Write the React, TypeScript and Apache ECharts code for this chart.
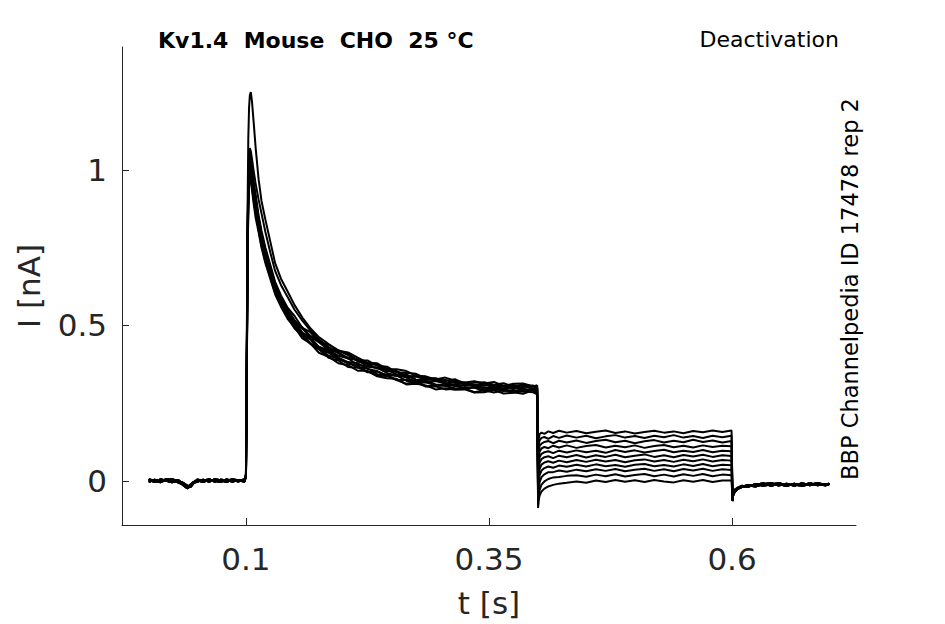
import React, { useEffect, useRef } from 'react';
import * as echarts from 'echarts';

// time points (s) of each protocol segment
const preTimes = [0, 0.006, 0.012, 0.018, 0.024, 0.03, 0.034, 0.037, 0.04, 0.043, 0.046, 0.05, 0.056, 0.062, 0.068, 0.074, 0.08, 0.086, 0.092, 0.0985];
const actTimes = [0.1, 0.1008, 0.1016, 0.1024, 0.1032, 0.104, 0.105, 0.1062, 0.108, 0.11, 0.113, 0.116, 0.12, 0.125, 0.13, 0.136, 0.143, 0.15, 0.158, 0.166, 0.175, 0.185, 0.195,
    0.205, 0.215, 0.225, 0.235, 0.245, 0.255, 0.265, 0.275, 0.285, 0.295, 0.305, 0.315, 0.325, 0.335, 0.345, 0.355, 0.365, 0.375, 0.385, 0.395, 0.3995];
const tailTimes = [0.4005, 0.401, 0.402, 0.404, 0.407, 0.411, 0.416, 0.422, 0.43, 0.44, 0.45, 0.46, 0.47, 0.48, 0.49, 0.5, 0.51, 0.52, 0.53, 0.54, 0.55, 0.56, 0.57, 0.58, 0.59, 0.5995];
const postTimes = [0.6005, 0.601, 0.603, 0.606, 0.61, 0.616, 0.624, 0.632, 0.64, 0.648, 0.656, 0.664, 0.672, 0.68, 0.688, 0.696, 0.7];

// holding current before the step (nA), three overlapping sweeps
const preA = [0.004, -0.004, 0.005, 0.0, -0.005, 0.003, -0.006, -0.014, -0.02, -0.012, -0.004, 0.002, -0.004, 0.004, 0.0, -0.004, 0.005, -0.003, 0.003, 0.001];
const preB = [-0.004, 0.004, -0.003, 0.005, 0.001, -0.005, -0.01, -0.018, -0.024, -0.016, -0.006, -0.003, 0.004, -0.003, 0.005, 0.002, -0.004, 0.004, -0.002, 0.005];
const preC = [0.005, 0.0, -0.005, 0.003, 0.006, -0.003, -0.004, -0.01, -0.016, -0.02, -0.008, 0.004, 0.0, 0.005, -0.003, 0.004, 0.0, 0.005, 0.002, -0.003];

// activation / inactivation phase, one row per sweep
const act0 = [0.02, 0.4, 0.85, 1.1, 1.2, 1.24, 1.25, 1.22, 1.15, 1.07, 0.97, 0.9, 0.84, 0.77, 0.7, 0.65, 0.608, 0.565, 0.525, 0.492, 0.462, 0.44, 0.42,
    0.408, 0.388, 0.387, 0.37, 0.367, 0.349, 0.347, 0.344, 0.329, 0.33, 0.321, 0.327, 0.312, 0.315, 0.317, 0.309, 0.314, 0.302, 0.31, 0.304, 0.306];
const act1 = [0.02, 0.38, 0.78, 0.98, 1.05, 1.07, 1.06, 1.035, 0.995, 0.955, 0.905, 0.86, 0.8, 0.735, 0.675, 0.63, 0.59, 0.55, 0.515, 0.485, 0.455, 0.43, 0.41,
    0.396, 0.39, 0.376, 0.373, 0.353, 0.353, 0.336, 0.337, 0.333, 0.321, 0.324, 0.315, 0.315, 0.306, 0.315, 0.303, 0.306, 0.308, 0.301, 0.307, 0.298];
const act2 = [0.02, 0.36, 0.76, 0.96, 1.04, 1.06, 1.045, 1.01, 0.96, 0.92, 0.854, 0.804, 0.75, 0.695, 0.64, 0.596, 0.556, 0.53, 0.492, 0.479, 0.447, 0.438, 0.418,
    0.413, 0.396, 0.38, 0.378, 0.36, 0.359, 0.353, 0.338, 0.336, 0.326, 0.332, 0.322, 0.316, 0.32, 0.313, 0.318, 0.305, 0.312, 0.313, 0.304, 0.307];
const act3 = [0.01, 0.34, 0.72, 0.92, 1.0, 1.03, 1.015, 0.985, 0.94, 0.9, 0.839, 0.789, 0.736, 0.683, 0.629, 0.586, 0.546, 0.513, 0.49, 0.464, 0.446, 0.421, 0.413,
    0.393, 0.389, 0.367, 0.364, 0.357, 0.342, 0.342, 0.324, 0.326, 0.324, 0.314, 0.308, 0.316, 0.305, 0.307, 0.303, 0.305, 0.297, 0.306, 0.297, 0.298];
const act4 = [0.01, 0.32, 0.7, 0.9, 0.97, 1.0, 0.985, 0.955, 0.91, 0.87, 0.818, 0.768, 0.717, 0.665, 0.614, 0.572, 0.532, 0.505, 0.468, 0.456, 0.424, 0.412, 0.39,
    0.381, 0.365, 0.362, 0.343, 0.342, 0.338, 0.322, 0.313, 0.317, 0.307, 0.307, 0.295, 0.302, 0.299, 0.29, 0.299, 0.289, 0.292, 0.287, 0.293, 0.287];
const act5 = [0.02, 0.35, 0.74, 0.95, 1.03, 1.05, 1.025, 0.98, 0.92, 0.87, 0.806, 0.756, 0.706, 0.655, 0.605, 0.564, 0.524, 0.49, 0.467, 0.441, 0.423, 0.396, 0.387,
    0.366, 0.364, 0.352, 0.338, 0.337, 0.324, 0.312, 0.317, 0.303, 0.304, 0.294, 0.296, 0.297, 0.285, 0.291, 0.284, 0.291, 0.285, 0.28, 0.291, 0.28];
const act6 = [0.01, 0.33, 0.73, 0.93, 1.0, 1.02, 1.005, 0.975, 0.93, 0.885, 0.83, 0.78, 0.728, 0.675, 0.623, 0.58, 0.54, 0.515, 0.477, 0.462, 0.431, 0.42, 0.402,
    0.394, 0.372, 0.37, 0.363, 0.347, 0.337, 0.339, 0.325, 0.317, 0.321, 0.313, 0.304, 0.308, 0.308, 0.296, 0.303, 0.297, 0.303, 0.296, 0.292, 0.298];
const act7 = [0.01, 0.31, 0.69, 0.88, 0.96, 0.99, 0.975, 0.945, 0.9, 0.86, 0.812, 0.762, 0.711, 0.66, 0.609, 0.568, 0.528, 0.496, 0.472, 0.444, 0.426, 0.402, 0.394,
    0.377, 0.369, 0.349, 0.351, 0.339, 0.325, 0.324, 0.321, 0.304, 0.306, 0.306, 0.297, 0.295, 0.301, 0.289, 0.293, 0.296, 0.285, 0.291, 0.292, 0.282];
const act8 = [0.02, 0.34, 0.75, 0.95, 1.02, 1.04, 1.025, 0.995, 0.95, 0.905, 0.845, 0.795, 0.741, 0.688, 0.634, 0.59, 0.55, 0.516, 0.493, 0.467, 0.449, 0.425, 0.419,
    0.404, 0.384, 0.376, 0.361, 0.36, 0.351, 0.334, 0.335, 0.326, 0.329, 0.313, 0.318, 0.31, 0.306, 0.313, 0.305, 0.306, 0.3, 0.308, 0.296, 0.301];
const act9 = [0.01, 0.32, 0.71, 0.91, 0.98, 1.01, 0.995, 0.965, 0.92, 0.875, 0.824, 0.774, 0.722, 0.67, 0.618, 0.576, 0.536, 0.509, 0.473, 0.46, 0.429, 0.417, 0.396,
    0.382, 0.378, 0.36, 0.353, 0.338, 0.34, 0.332, 0.317, 0.322, 0.31, 0.307, 0.31, 0.296, 0.302, 0.301, 0.292, 0.297, 0.301, 0.291, 0.291, 0.296];
const act10 = [0.01, 0.3, 0.68, 0.87, 0.95, 0.98, 0.965, 0.935, 0.89, 0.845, 0.8, 0.75, 0.7, 0.65, 0.6, 0.56, 0.52, 0.494, 0.458, 0.443, 0.412, 0.399, 0.378,
    0.372, 0.354, 0.354, 0.336, 0.33, 0.328, 0.31, 0.312, 0.307, 0.294, 0.298, 0.293, 0.294, 0.284, 0.285, 0.292, 0.281, 0.283, 0.289, 0.285, 0.278];

// tail currents during the deactivating step
const tail0 = [0.09, 0.13, 0.15, 0.155, 0.151, 0.159, 0.154, 0.161, 0.155, 0.16, 0.153, 0.158, 0.162, 0.154, 0.159, 0.152, 0.157, 0.161, 0.155, 0.159, 0.153, 0.16, 0.156, 0.162, 0.157, 0.162];
const tail1 = [0.07, 0.11, 0.13, 0.138, 0.141, 0.135, 0.144, 0.138, 0.146, 0.139, 0.145, 0.137, 0.143, 0.147, 0.139, 0.144, 0.138, 0.145, 0.14, 0.147, 0.139, 0.144, 0.138, 0.145, 0.14, 0.145];
const tail2 = [0.05, 0.09, 0.112, 0.12, 0.125, 0.128, 0.121, 0.129, 0.123, 0.13, 0.122, 0.128, 0.132, 0.124, 0.129, 0.121, 0.127, 0.131, 0.123, 0.129, 0.124, 0.132, 0.125, 0.13, 0.123, 0.128];
const tail3 = [0.03, 0.07, 0.094, 0.104, 0.109, 0.105, 0.113, 0.107, 0.114, 0.106, 0.112, 0.115, 0.107, 0.113, 0.108, 0.114, 0.106, 0.112, 0.115, 0.108, 0.113, 0.107, 0.114, 0.109, 0.113, 0.111];
const tail4 = [0.01, 0.05, 0.076, 0.087, 0.092, 0.095, 0.089, 0.097, 0.091, 0.098, 0.092, 0.097, 0.09, 0.099, 0.093, 0.098, 0.091, 0.096, 0.1, 0.092, 0.097, 0.093, 0.099, 0.092, 0.097, 0.095];
const tail5 = [-0.01, 0.03, 0.058, 0.07, 0.076, 0.079, 0.073, 0.081, 0.076, 0.083, 0.075, 0.082, 0.077, 0.084, 0.076, 0.081, 0.085, 0.077, 0.082, 0.076, 0.083, 0.078, 0.084, 0.077, 0.082, 0.08];
const tail6 = [-0.03, 0.01, 0.038, 0.052, 0.059, 0.063, 0.058, 0.065, 0.06, 0.067, 0.061, 0.068, 0.062, 0.067, 0.06, 0.066, 0.069, 0.062, 0.067, 0.061, 0.068, 0.063, 0.069, 0.062, 0.067, 0.065];
const tail7 = [-0.05, -0.01, 0.018, 0.033, 0.041, 0.046, 0.042, 0.049, 0.045, 0.052, 0.046, 0.053, 0.047, 0.051, 0.045, 0.052, 0.054, 0.047, 0.051, 0.046, 0.053, 0.048, 0.054, 0.047, 0.052, 0.05];
const tail8 = [-0.065, -0.03, -0.005, 0.012, 0.021, 0.028, 0.028, 0.033, 0.029, 0.036, 0.031, 0.037, 0.032, 0.038, 0.031, 0.036, 0.039, 0.032, 0.037, 0.031, 0.038, 0.033, 0.039, 0.032, 0.037, 0.035];
const tail9 = [-0.078, -0.05, -0.03, -0.012, -0.002, 0.006, 0.011, 0.012, 0.016, 0.018, 0.013, 0.02, 0.015, 0.021, 0.014, 0.019, 0.022, 0.015, 0.02, 0.014, 0.021, 0.016, 0.022, 0.015, 0.02, 0.018];
const tail10 = [-0.087, -0.065, -0.048, -0.034, -0.025, -0.018, -0.013, -0.009, -0.006, -0.002, -0.006, 0.001, -0.004, 0.003, -0.003, 0.002, -0.004, 0.003, -0.002, -0.005, 0.002, -0.003, 0.003, -0.004, 0.001, 0.001];

// after returning to holding potential
const postA = [-0.065, -0.048, -0.034, -0.026, -0.02, -0.016, -0.013, -0.008, -0.016, -0.01, -0.017, -0.009, -0.015, -0.008, -0.014, -0.01, -0.012];
const postB = [-0.06, -0.044, -0.031, -0.024, -0.019, -0.014, -0.018, -0.011, -0.007, -0.015, -0.009, -0.016, -0.008, -0.014, -0.007, -0.013, -0.01];
const postC = [-0.055, -0.04, -0.028, -0.022, -0.016, -0.02, -0.01, -0.016, -0.012, -0.007, -0.014, -0.012, -0.017, -0.01, -0.009, -0.015, -0.008];

const preSweeps = [preA, preB, preC];
const postSweeps = [postA, postB, postC];
const actSweeps = [act0, act1, act2, act3, act4, act5, act6, act7, act8, act9, act10];
const tailSweeps = [tail0, tail1, tail2, tail3, tail4, tail5, tail6, tail7, tail8, tail9, tail10];

const xTicks = [0.1, 0.35, 0.6];
const yTicks = [0, 0.5, 1];

const titleText = 'Kv1.4  Mouse  CHO  25 °C';
const protocolText = 'Deactivation';
const sourceText = 'BBP Channelpedia ID 17478 rep 2';

const pair = (ts: number[], vs: number[]) => {
    const n = Math.min(ts.length, vs.length);
    const out: number[][] = [];
    for (let i = 0; i < n; i++) out.push([ts[i], vs[i]]);
    return out;
};

const FONT = '"DejaVu Sans", Verdana, sans-serif';
const AXIS_COLOR = '#262626';

const App: React.FC = () => {
    const chartRef = useRef<HTMLDivElement>(null);

    useEffect(() => {
        document.body.style.margin = '0';
        const chartDom = chartRef.current!;
        const myChart = echarts.init(chartDom, undefined, { renderer: 'svg' });

        const series = actSweeps.map((act, i) => ({
            type: 'line' as const,
            showSymbol: false,
            symbol: 'none',
            silent: true,
            animation: false,
            lineStyle: { color: '#000', width: 2 },
            data: [
                ...pair(preTimes, preSweeps[i % 3]),
                ...pair(actTimes, act),
                ...pair(tailTimes, tailSweeps[i]),
                ...pair(postTimes, postSweeps[i % 3]),
            ],
        }));

        const option: echarts.EChartsOption = {
            animation: false,
            grid: { left: 122, right: 89, top: 47, bottom: 99 },
            xAxis: {
                type: 'value',
                min: -0.0275,
                max: 0.7275,
                name: 't [s]',
                nameLocation: 'middle',
                nameGap: 62,
                nameTextStyle: { fontSize: 31, fontFamily: FONT, color: AXIS_COLOR },
                axisLine: { show: true, onZero: false, lineStyle: { color: AXIS_COLOR, width: 1 } },
                axisTick: { show: true, inside: true, length: 7, customValues: xTicks, lineStyle: { color: AXIS_COLOR } },
                axisLabel: {
                    customValues: xTicks,
                    margin: 18,
                    fontSize: 31,
                    fontFamily: FONT,
                    color: AXIS_COLOR,
                    formatter: (v: number) => String(v),
                },
                splitLine: { show: false },
            },
            yAxis: {
                type: 'value',
                min: -0.142,
                max: 1.395,
                name: 'I [nA]',
                nameLocation: 'middle',
                nameGap: 78,
                nameTextStyle: { fontSize: 31, fontFamily: FONT, color: AXIS_COLOR },
                axisLine: { show: true, onZero: false, lineStyle: { color: AXIS_COLOR, width: 1 } },
                axisTick: { show: true, inside: true, length: 7, customValues: yTicks, lineStyle: { color: AXIS_COLOR } },
                axisLabel: {
                    customValues: yTicks,
                    margin: 15,
                    fontSize: 31,
                    fontFamily: FONT,
                    color: AXIS_COLOR,
                    formatter: (v: number) => String(v),
                },
                splitLine: { show: false },
            },
            graphic: [
                {
                    type: 'text',
                    x: 158,
                    y: 40,
                    style: { text: titleText, font: `bold 22px ${FONT}`, fill: '#000', align: 'left', verticalAlign: 'middle' },
                },
                {
                    type: 'text',
                    x: 839,
                    y: 39,
                    style: { text: protocolText, font: `22px ${FONT}`, fill: '#000', align: 'right', verticalAlign: 'middle' },
                },
                {
                    type: 'text',
                    x: 850,
                    y: 289,
                    rotation: Math.PI / 2,
                    style: { text: sourceText, font: `22.5px ${FONT}`, fill: '#000', align: 'center', verticalAlign: 'middle' },
                },
            ],
            series,
        };

        myChart.setOption(option);

        return () => {
            myChart.dispose();
        };
    }, []);

    return <div ref={chartRef} style={{ width: 945, height: 624 }} />;
};

export default App;
